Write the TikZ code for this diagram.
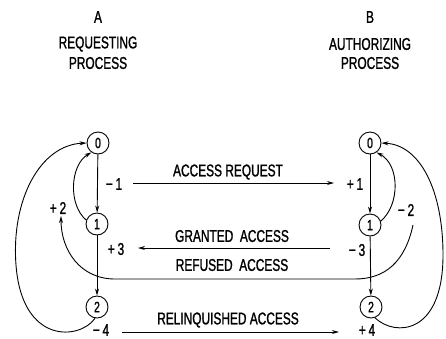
\documentclass[tikz,border=0pt]{standalone}
\usepackage{fontspec}
\setmainfont{Liberation Sans}[FakeStretch=0.7,FakeBold=1.2]
\usetikzlibrary{arrows.meta}
\begin{document}
\begin{tikzpicture}[x=1pt,y=-1pt,
  every node/.style={font=\fontsize{17}{19}\selectfont, inner sep=0pt},
  st/.style={circle, draw, line width=0.9pt, minimum size=22pt, inner sep=0pt, font=\fontsize{15}{15}\selectfont},
  ln/.style={line width=0.9pt},
  arr/.style={ln, -{Stealth[length=7pt,width=4pt]}},
  lbl/.style={font=\fontsize{17}{19}\selectfont},
  hdr/.style={font=\fontsize{17}{19}\selectfont, align=center}]
\useasboundingbox (0,0) rectangle (446,338);
% headers
\node[hdr] (ha) at (98,17) {A};
\node[hdr] (hareq) at (98,44) {REQUESTING};
\node[hdr] (hap) at (98,63) {PROCESS};
\node[hdr] (hb) at (370,17) {B};
\node[hdr] (hbaut) at (370,44) {AUTHORIZING};
\node[hdr] (hbp) at (370,63) {PROCESS};
% states
\node[st] (a0) at (98,143) {0};
\node[st] (a1) at (97,224) {1};
\node[st] (a2) at (97,307) {2};
\node[st] (b0) at (370,143) {0};
\node[st] (b1) at (370,225) {1};
\node[st] (b2) at (371,307) {2};
% vertical transitions
\draw[arr] (a0) -- (a1);
\draw[arr] (a1) -- (a2);
\draw[arr] (b0) -- (b1);
\draw[arr] (b1) -- (b2);
% loops
\draw[arr] (a1.160) .. controls (68,205) and (70,165) .. (a0.235);
\draw[arr] (a2.260) .. controls (80,340) and (22,345) .. (16,265) .. controls (11,200) and (40,145) .. (a0.west);
\draw[arr] (b1.20) .. controls (400,205) and (400,165) .. (b0.305);
\draw[arr] (b2.290) .. controls (395,337) and (443,335) .. (443,255) .. controls (443,190) and (420,145) .. (b0.east);
% messages
\coordinate (rqs) at (133,183);
\coordinate (rqe) at (334,183);
\draw[arr] (rqs) -- (rqe);
\node (trq) at (228,172) {ACCESS REQUEST};
\coordinate (gs) at (330,248);
\coordinate (ge) at (138,248);
\draw[arr] (gs) -- (ge);
\node (tg) at (232,236) {GRANTED\ \ ACCESS};
\coordinate (rs) at (413,225);
\coordinate (re) at (61,216);
\draw[arr] (rs) .. controls (405,262) and (385,279) .. (355,279) -- (115,279) .. controls (80,279) and (61,250) .. (re);
\node (tr) at (232,265) {REFUSED\ \ ACCESS};
\coordinate (ls) at (122,332);
\coordinate (le) at (339,332);
\draw[arr] (ls) -- (le);
\node (tl) at (228,320) {RELINQUISHED ACCESS};
% labels
\node[lbl] (m1) at (114,184) {−\,1};
\node[lbl] (p1) at (355,184) {+\,1};
\node[lbl] (p2) at (58,208) {+\,2};
\node[lbl] (m2) at (406,210) {−\,2};
\node[lbl] (p3) at (116,249) {+\,3};
\node[lbl] (m3) at (357,250) {−\,3};
\node[lbl] (m4) at (101,330) {−\,4};
\node[lbl] (p4) at (367,330) {+\,4};
\end{tikzpicture}
\end{document}
